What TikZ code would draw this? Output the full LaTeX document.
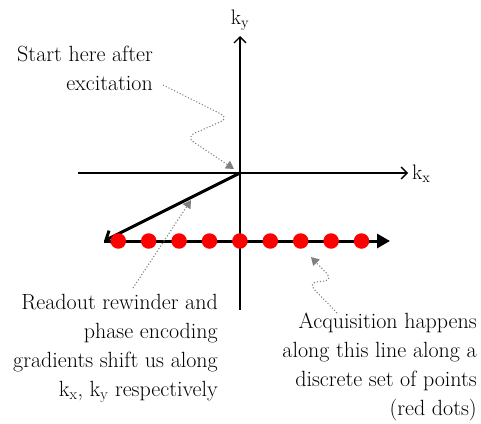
\documentclass[tikz,border=0pt]{standalone}
\usetikzlibrary{arrows.meta}
\begin{document}
\begin{tikzpicture}[x=1pt,y=-1pt,
  axis/.style={line width=1.4pt,-{Straight Barb[length=6pt,width=12pt,line width=1.4pt]}},
  rewind/.style={line width=3pt,-{Straight Barb[length=7pt,width=14pt,line width=3pt]}},
  readout/.style={line width=3pt,-{Triangle[length=13pt,width=14pt]}},
  note/.style={draw=gray,dotted,line width=1.1pt,rounded corners=9pt,-{Triangle[length=8pt,width=9pt,fill=gray]}},
  lbl/.style={font=\fontsize{22}{29}\selectfont,align=right,inner sep=0pt},
  axlbl/.style={font=\fontsize{21}{22}\selectfont,inner sep=0pt},
  dot/.style={circle,fill=red,minimum size=15.5pt,inner sep=0pt}]
\useasboundingbox (0,0) rectangle (481,423);
% axes
\coordinate (O) at (240,173);
\coordinate (xl) at (78,173);
\coordinate (xr) at (408,173);
\coordinate (yb) at (240,310);
\coordinate (yt) at (240,36);
\draw[axis] (xl) -- (xr);
\draw[axis] (yb) -- (yt);
\node[axlbl,anchor=base west] (kx) at (412,179) {k\textsubscript{x}};
\node[axlbl,anchor=base] (ky) at (240,24) {k\textsubscript{y}};
% trajectory
\coordinate (L) at (104,241);
\coordinate (R) at (390,241);
\draw[rewind] (O) -- (L);
\draw[readout] (L) -- (R);
\foreach \i in {0,...,8} {
  \node[dot] (d\i) at ({118.3+30.4*\i},241) {};
}
% labels (base anchor = baseline of last line)
\node[lbl,anchor=base east] (t1) at (153,90) {Start here after\\excitation};
\node[lbl,anchor=base east] (t2) at (218,396) {Readout rewinder and\\phase encoding\\gradients shift us along\\k\textsubscript{x}, k\textsubscript{y} respectively};
\node[lbl,anchor=base east] (t3) at (477,415) {Acquisition happens\\along this line along a\\discrete set of points\\(red dots)};
% annotation arrows
\coordinate (s1) at (163,85);
\coordinate (e1) at (234,169);
\draw[note] (s1) -- (229,118) -- (186,137) -- (e1);
\coordinate (s2) at (133,288);
\coordinate (e2) at (191,200);
\draw[note] (s2) -- (e2);
\coordinate (s3) at (337,313);
\coordinate (e3) at (311,257);
\draw[note] (s3) -- (308,283) -- (333,280) -- (e3);
\end{tikzpicture}
\end{document}
